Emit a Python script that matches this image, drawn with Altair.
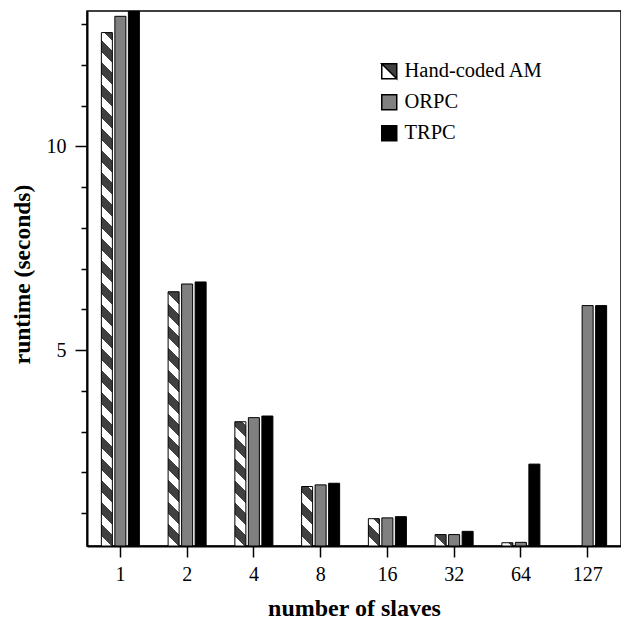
import altair as alt
import pandas as pd

# ---- data ----
slaves = ["1", "2", "4", "8", "16", "32", "64", "127"]
series = ["Hand-coded AM", "ORPC", "TRPC"]
hand_coded = [12.79, 6.43, 3.24, 1.65, 0.86, 0.47, 0.27, None]
orpc = [13.19, 6.62, 3.34, 1.69, 0.88, 0.47, 0.28, 6.09]
trpc = [13.6, 6.67, 3.38, 1.73, 0.91, 0.55, 2.20, 6.09]
y_ticks = list(range(1, 14))
y_labelled = [5, 10]

rows = []
for s, vals in zip(series, [hand_coded, orpc, trpc]):
    for k, v in zip(slaves, vals):
        if v is not None:
            rows.append({"slaves": k, "series": s, "runtime": v})
df = pd.DataFrame(rows)

# ---- layout / style ----
W, H = 534, 535
YMIN, YMAX = 0.19, 13.32
X_PI = 0.228
X_PO = X_PI / 2
O_PI, O_PO = 0.185, 0.5
DARK, GRAY, BLACK = "#404040", "#808080", "#000000"
FONT = "Liberation Serif"
HATCH_PATH = "M-1,-1L1,-1L1,1Z M-1,-1L-1,1L1,1L-1,1Z"

step = W / len(slaves)
bw = step * (1 - X_PI)
o_step = bw / (3 - O_PI + 2 * O_PO)
bar_w = o_step * (1 - O_PI)


def stripes(v):
    h = (min(v, YMAX) - YMIN) / (YMAX - YMIN) * H
    w = bar_w
    L = w + h
    P = 22.0
    fw = 0.45
    stops = []
    n = 0
    while n * P < L:
        a = n * P / L
        b = min((n * P + fw * P) / L, 1.0)
        c = min((n + 1) * P / L, 1.0)
        stops += [("white", a), ("white", b)]
        if b < 1.0:
            stops += [(DARK, b), (DARK, c)]
        n += 1
    k = (w + h) / (w * w + h * h)
    return alt.Gradient(
        gradient="linear", x1=0, y1=1, x2=k * w, y2=1 - k * h,
        stops=[alt.GradientStop(color=col, offset=o) for col, o in stops],
    )


x_enc = alt.X(
    "slaves:N", sort=slaves,
    scale=alt.Scale(paddingInner=X_PI, paddingOuter=X_PO),
    axis=alt.Axis(
        title="number of slaves", labelAngle=0, labelFont=FONT, labelFontSize=20,
        labelColor="black", labelPadding=7, tickSize=11, tickWidth=1.5,
        tickColor="black", domainColor="black", domainWidth=2,
        titleFont=FONT, titleFontSize=24, titleFontWeight="bold",
        titleColor="black", titlePadding=12, grid=False,
    ),
)
xo_enc = alt.XOffset(
    "series:N", sort=series,
    scale=alt.Scale(domain=series, paddingInner=O_PI, paddingOuter=O_PO),
)
y_enc = alt.Y(
    "runtime:Q",
    scale=alt.Scale(domain=[YMIN, YMAX], zero=False, nice=False),
    axis=alt.Axis(
        title="runtime (seconds)", values=y_ticks,
        labelExpr=f"indexof({y_labelled}, datum.value) >= 0 ? datum.label : ''",
        tickSize={"condition": {"test": f"indexof({y_labelled}, datum.value) >= 0", "value": 12}, "value": 6},
        tickWidth=1.5, tickColor="black", domainColor="black", domainWidth=2,
        labelFont=FONT, labelFontSize=20, labelColor="black", labelPadding=9,
        titleFont=FONT, titleFontSize=23.5, titleFontWeight="bold",
        titleColor="black", titlePadding=12, titleY=263, grid=False,
    ),
)
y2_enc = alt.Y2Datum(YMIN)

base = alt.Chart(df)
layers = []
for s, fill in [("ORPC", GRAY), ("TRPC", BLACK)]:
    layers.append(
        base.transform_filter(alt.datum.series == s)
        .mark_bar(fill=fill, stroke="black", strokeWidth=1, clip=True, opacity=1)
        .encode(x=x_enc, xOffset=xo_enc, y=y_enc, y2=y2_enc)
    )
for k, v in zip(slaves, hand_coded):
    if v is None:
        continue
    layers.append(
        base.transform_filter((alt.datum.series == series[0]) & (alt.datum.slaves == k))
        .mark_bar(fill=stripes(v), stroke="black", strokeWidth=1, clip=True, opacity=1)
        .encode(x=x_enc, xOffset=xo_enc, y=y_enc, y2=y2_enc)
    )

legend = alt.Legend(
    orient="none", legendX=292, legendY=50, title=None, padding=0,
    labelFont=FONT, labelFontSize=20.5, labelColor="black", labelOffset=5,
    rowPadding=9, symbolSize=225, symbolStrokeColor="black", symbolStrokeWidth=1.5,
)
layers.append(
    base.transform_filter("false")
    .mark_point(filled=True, size=225, stroke="black", strokeWidth=1.5, opacity=1)
    .encode(
        x=x_enc, y=y_enc,
        color=alt.Color("series:N", scale=alt.Scale(domain=series, range=[DARK, GRAY, BLACK]), legend=legend),
        shape=alt.Shape("series:N", scale=alt.Scale(domain=series, range=[HATCH_PATH, "square", "square"]), legend=legend),
    )
)

chart = (
    alt.layer(*layers)
    .properties(
        width=W, height=H,
        autosize=alt.AutoSizeParams(type="none"),
        padding={"left": 87, "top": 11, "right": 0, "bottom": 74},
        background="white",
    )
    .configure_view(stroke="black", strokeWidth=1.5)
)

chart.save("out.html", embed_options={"renderer": "svg", "actions": False})
